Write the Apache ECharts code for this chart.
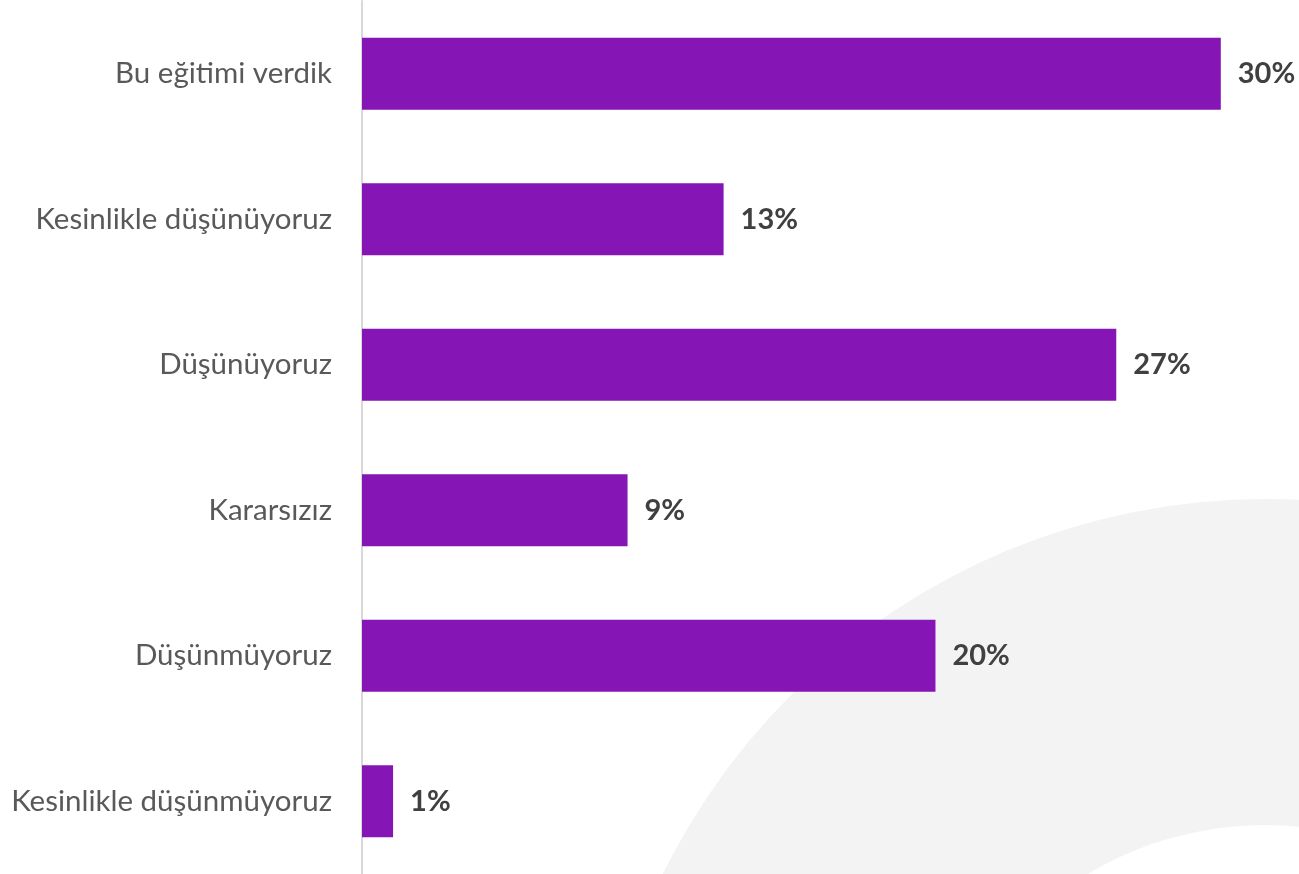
<!DOCTYPE html>
<html>
<head>
<meta charset="utf-8">
<script src="https://cdn.jsdelivr.net/npm/echarts@6/dist/echarts.min.js"></script>
<style>
html,body{margin:0;padding:0;background:#fff;}
#chart{width:1299px;height:874px;}
</style>
</head>
<body>
<div id="chart"></div>
<script>
const categories = [
  'Bu eğitimi verdik',
  'Kesinlikle düşünüyoruz',
  'Düşünüyoruz',
  'Kararsızız',
  'Düşünmüyoruz',
  'Kesinlikle düşünmüyoruz'
];
const values = [30.4, 12.8, 26.7, 9.4, 20.3, 1.1];

const FONT = 'Lato, "Open Sans", sans-serif';
const chart = echarts.init(document.getElementById('chart'));
chart.setOption({
  animation: false,
  backgroundColor: '#ffffff',
  graphic: [{
    type: 'ring',
    z: -10,
    silent: true,
    shape: { cx: 1265, cy: 1170, r: 671, r0: 345 },
    style: { fill: '#f3f3f3' }
  }],
  grid: { left: 362, right: 33, top: 1, bottom: 0, containLabel: false },
  xAxis: {
    type: 'value',
    min: 0,
    max: 32,
    show: false
  },
  yAxis: {
    type: 'category',
    data: categories,
    inverse: true,
    axisLine: { show: true, lineStyle: { color: '#d9d9d9', width: 2 } },
    axisTick: { show: false },
    axisLabel: {
      margin: 30,
      fontFamily: FONT,
      fontSize: 29.5,
      color: '#595959'
    }
  },
  series: [{
    type: 'bar',
    data: values,
    barWidth: 72,
    itemStyle: { color: '#8516b5' },
    label: {
      show: true,
      position: 'right',
      distance: 17,
      fontFamily: FONT,
      fontSize: 29,
      fontWeight: 'bold',
      color: '#404040',
      formatter: p => Math.round(p.value) + '%'
    }
  }]
});
</script>
</body>
</html>
